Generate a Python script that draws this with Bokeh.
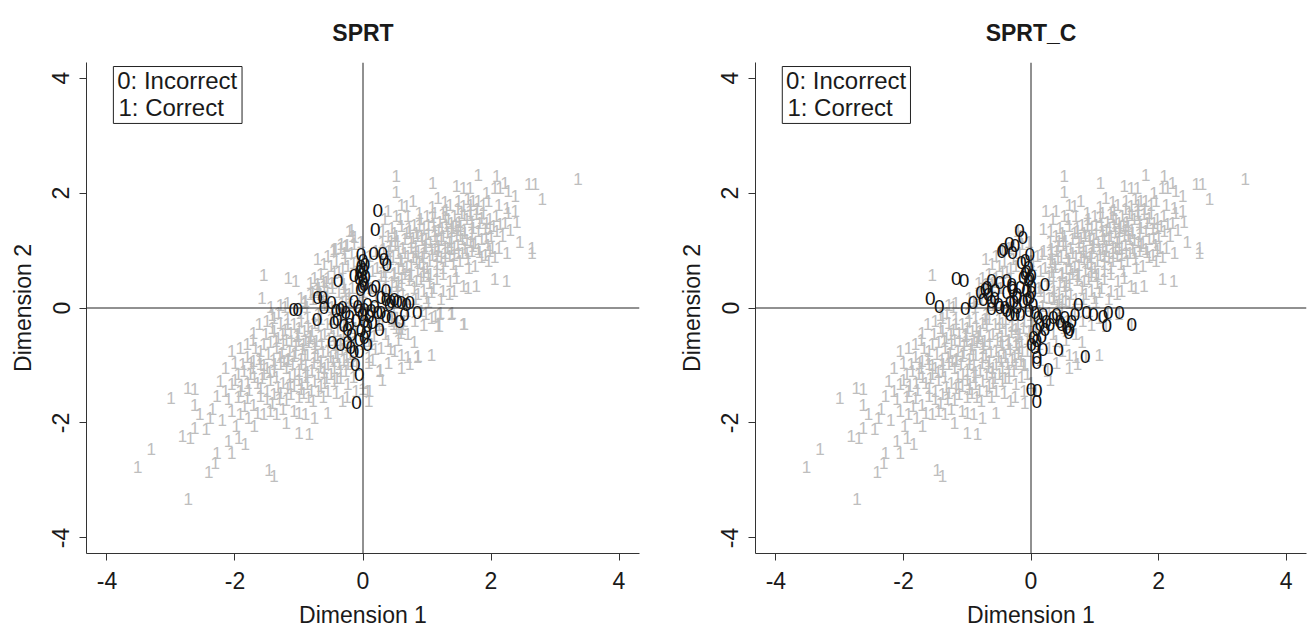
from bokeh.plotting import figure
from bokeh.layouts import row
from bokeh.models import Span, BoxAnnotation, Label, FixedTicker, ColumnDataSource, Range1d
from bokeh.core.properties import value
from bokeh.embed import file_html
from bokeh.resources import INLINE

FONT = "Liberation Sans"
titles = ["SPRT", "SPRT_C"]
x_label = "Dimension 1"
y_label = "Dimension 2"
tick_values = [-4, -2, 0, 2, 4]
tick_texts = ["-4", "-2", "0", "2", "4"]
legend_lines = ["0: Incorrect", "1: Correct"]

# ---- "1" (correct) points common to both panels ----
ones_tail = [(-3.52, -2.77), (-3.31, -2.45), (-2.73, -3.33), (-3.00, -1.56), (-2.74, -1.40), (-2.63, -1.41),
             (-2.63, -1.68), (-2.82, -2.23), (-2.70, -2.26), (-2.63, -2.08), (-2.39, -1.91), (-2.41, -2.86),
             (-2.31, -2.69), (-2.28, -2.52), (-2.05, -2.52), (-2.10, -2.31), (-1.94, -2.26), (-1.84, -2.37),
             (-2.28, -1.53), (-2.15, -1.44), (-2.10, -1.59), (-2.23, -1.27), (-2.05, -1.33), (-1.47, -2.81),
             (-1.39, -2.92), (-1.00, -2.17), (-0.84, -2.19), (-2.05, -1.79), (-1.92, -1.85), (-1.79, -1.91),
             (-1.65, -1.82), (-1.55, -1.85), (-1.45, -1.79)]

ones_mid_low = [(-1.92, -1.44), (-1.81, -1.56), (-1.71, -1.68), (-1.60, -1.53), (-1.50, -1.59), (-1.39, -1.50),
                (-1.29, -1.47), (-1.18, -1.39), (-1.08, -1.36), (-0.97, -1.41), (-0.87, -1.33), (-0.76, -1.27),
                (-0.66, -1.36), (-0.55, -1.44), (-0.45, -1.27), (-0.35, -1.21), (-0.24, -1.33), (-0.11, -1.44),
                (0.07, -1.44), (-1.08, -1.79), (-1.00, -1.82), (-0.90, -1.85), (-0.76, -1.91), (-0.55, -1.82),
                (-2.05, -0.74), (-1.92, -0.69), (-1.81, -0.62), (-1.71, -0.43), (-1.55, -0.63), (-1.81, -0.86),
                (-1.71, -0.92), (-1.60, -0.98), (-1.50, -1.04), (-1.39, -1.10), (-1.29, -0.98), (-1.18, -0.92),
                (-1.08, -0.83), (-0.97, -0.89), (-0.87, -0.81), (-0.76, -0.86), (-0.66, -0.92), (-0.55, -0.98),
                (-0.45, -1.04), (-0.35, -1.10), (-0.24, -0.98), (-1.86, -1.10), (-1.76, -1.15), (-1.55, -1.15)]

ones_low_right = [(0.49, -0.75), (0.60, -0.81), (0.70, -0.86), (0.73, -0.98), (0.86, -0.83), (1.07, -0.81),
                  (0.26, -1.10), (0.13, -0.63), (0.28, -0.69), (0.39, -0.57), (1.20, -0.11), (1.17, -0.31),
                  (1.38, -0.11), (1.57, -0.28), (0.91, -0.05), (1.07, -0.17), (0.81, -0.23), (0.62, -0.28),
                  (0.52, -0.34), (0.25, -0.30), (0.35, -0.45), (0.45, -0.20), (0.70, -0.45), (0.55, -0.55)]

ones_axis_left = [(-1.50, -0.23), (-1.39, -0.17), (-1.29, -0.26), (-1.18, -0.20), (-1.08, -0.28), (-0.97, -0.23),
                  (-0.87, -0.17), (-0.76, -0.26), (-0.66, -0.20), (-1.39, -0.40), (-1.26, -0.46), (-1.13, -0.43),
                  (-1.03, -0.49), (-0.92, -0.40), (-0.82, -0.49), (-1.55, 0.57), (-0.82, 0.44), (-0.71, 0.41),
                  (-0.61, 0.38), (-1.29, 0.06), (-1.18, 0.09), (-0.97, 0.18), (-0.90, 0.12), (-0.82, 0.24),
                  (-0.76, 0.53), (-0.66, 0.59), (-0.55, 0.53), (-0.45, 0.61), (-0.32, 0.50), (-0.71, 0.85),
                  (-0.61, 0.76), (-0.50, 0.73), (-0.42, 0.82), (-0.32, 0.70), (-0.24, 0.73), (-0.45, 1.02),
                  (-0.35, 1.05), (-0.27, 1.08), (-0.14, 1.11), (-0.03, 1.14), (-0.21, 1.34), (-0.16, 1.25)]

ones_core_low = [(-1.45, -0.60), (-1.35, -0.70), (-1.25, -0.62), (-1.15, -0.75), (-1.05, -0.65), (-0.95, -0.72),
                 (-0.85, -0.60), (-0.75, -0.70), (-0.65, -0.62), (-0.55, -0.75), (-0.45, -0.65), (-0.35, -0.55),
                 (-1.40, -0.90), (-1.30, -0.85), (-1.20, -1.05), (-1.10, -0.98), (-1.00, -1.10), (-0.90, -1.00),
                 (-0.80, -1.08), (-0.70, -1.15), (-0.60, -1.05), (-0.50, -1.15), (-0.40, -0.85), (-0.30, -0.90),
                 (-0.20, -0.80), (-1.60, -0.75), (-1.65, -1.30), (-1.45, -1.25), (-1.35, -1.20), (-1.25, -1.30),
                 (-1.15, -1.20), (-1.00, -1.25), (-0.90, -1.20), (-0.70, -1.45), (-0.60, -1.30), (-0.85, -1.55),
                 (-1.20, -1.60), (-1.00, -1.55), (-0.80, -0.40), (-0.70, -0.30), (-0.60, -0.45), (-0.50, -0.35),
                 (-0.40, -0.40), (-0.30, -0.30), (-1.20, -0.55), (-1.00, -0.35), (-0.90, -0.55), (-0.70, -0.10),
                 (-0.60, 0.05), (-0.50, -0.20), (-1.80, -1.30), (-1.70, -1.20), (-1.95, -1.15), (-2.00, -0.95),
                 (-1.90, -1.35), (-1.75, -0.95), (-1.60, -1.40), (-1.50, -1.45), (-0.15, -0.60), (-0.10, -1.00),
                 (-0.25, -1.55), (-0.15, -1.20), (0.00, -1.30), (-1.42, -0.35), (-1.33, -0.52), (-1.22, -0.38),
                 (-1.12, -0.58), (-1.02, -0.45), (-0.93, -0.63), (-0.83, -0.52), (-0.73, -0.57), (-0.63, -0.77),
                 (-0.53, -0.55), (-0.43, -0.78), (-0.33, -0.72), (-0.23, -0.65), (-1.48, -0.80), (-1.38, -0.98),
                 (-1.27, -0.78), (-1.17, -0.88), (-1.07, -1.15), (-0.97, -0.98), (-0.87, -1.12), (-0.77, -0.95),
                 (-0.67, -1.02), (-0.57, -1.22), (-0.47, -0.92), (-0.37, -0.98), (-0.27, -1.10), (-1.55, -1.00),
                 (-1.62, -0.88), (-1.72, -1.05), (-1.33, -1.38), (-1.13, -1.50), (-0.93, -1.48), (-0.78, -1.62),
                 (-0.62, -1.55), (-0.42, -1.48), (-0.32, -1.62), (-1.85, -1.70), (-1.95, -1.55), (-1.42, -1.65),
                 (-1.25, -1.75)]

ones_fill_low = [(-2.15, -1.05), (-2.00, -1.25), (-1.88, -0.98), (-1.78, -1.42), (-1.68, -0.70), (-1.58, -1.22),
                 (-1.52, -0.45), (-1.46, -1.12), (-1.36, -0.58), (-1.31, -1.58), (-1.24, -0.92), (-1.18, -0.28),
                 (-1.14, -1.32), (-1.06, -0.78), (-1.01, -0.58), (-0.96, -1.32), (-0.91, -0.82), (-0.86, -0.32),
                 (-0.81, -1.42), (-0.76, -0.62), (-0.71, -0.82), (-0.66, -0.48), (-0.61, -1.12), (-0.56, -0.28),
                 (-0.51, -0.85), (-0.46, -0.48), (-0.41, -1.22), (-0.36, -0.62), (-0.31, -0.42), (-0.26, -0.85),
                 (-0.21, -0.48), (-0.16, -0.92), (-0.12, -0.35), (-1.72, -0.55), (-1.62, -0.28), (-1.42, -0.12),
                 (-1.32, -0.08), (-1.22, 0.02), (-0.98, -0.08), (-0.88, 0.02), (-0.78, 0.15), (-0.68, 0.28),
                 (-0.58, 0.45), (-0.48, 0.35), (-0.38, 0.62), (-0.28, 0.85), (-0.18, 0.95), (-0.55, 0.90),
                 (-2.35, -1.75), (-2.20, -1.95), (-2.45, -2.10), (-1.70, -2.05), (-1.20, -2.00), (-1.35, -1.85),
                 (-2.55, -1.85), (-1.98, -2.05)]

ones_up_right = [(0.49, 0.61), (0.60, 0.53), (0.73, 0.59), (0.83, 0.47), (0.94, 0.56), (1.04, 0.44), (1.15, 0.50),
                 (1.25, 0.59), (1.36, 0.47), (1.46, 0.53), (1.57, 0.38), (1.64, 0.35), (1.77, 0.38), (2.06, 0.50),
                 (2.24, 0.47), (0.44, 0.24), (0.54, 0.30), (0.70, 0.15), (0.86, 0.24), (0.99, 0.18), (1.07, 0.27),
                 (2.12, 1.05), (2.25, 0.96), (2.64, 1.05), (2.64, 0.96), (1.80, 1.02), (1.91, 0.93), (1.98, 0.99),
                 (2.06, 0.88), (0.75, 1.05), (0.86, 0.99), (0.96, 1.08), (1.07, 1.02), (1.17, 0.99), (1.28, 1.05),
                 (1.38, 1.02), (1.49, 0.96), (1.59, 1.05), (1.70, 0.99), (0.47, 0.88), (0.60, 0.82), (0.70, 0.90),
                 (0.83, 0.85), (0.94, 0.76), (1.04, 0.82), (1.15, 0.76), (1.28, 0.82), (1.41, 0.76), (1.51, 0.82),
                 (1.64, 0.85), (1.75, 0.73), (1.85, 0.88), (1.96, 0.82), (1.93, 1.48), (2.04, 1.43), (2.14, 1.46),
                 (2.22, 1.48), (1.91, 1.37), (1.98, 1.40), (2.09, 1.34), (0.60, 1.43), (0.73, 1.34), (0.83, 1.31),
                 (0.91, 1.25), (1.02, 1.28), (1.12, 1.34), (1.23, 1.40), (1.30, 1.43), (1.38, 1.34), (1.46, 1.25),
                 (1.59, 1.31), (1.70, 1.28), (1.80, 1.34), (1.62, 1.19), (1.75, 1.13), (0.31, 1.34), (0.39, 1.25),
                 (0.49, 1.31), (0.44, 1.17), (0.54, 1.17)]

ones_top = [(0.78, 1.86), (0.68, 1.77), (0.60, 1.80), (1.17, 1.92), (1.36, 1.80), (1.49, 1.86), (1.57, 1.77),
            (1.64, 1.89), (1.72, 1.86), (1.80, 1.86), (1.88, 1.80), (1.96, 1.86), (2.12, 1.80), (2.25, 1.74),
            (2.38, 1.69), (2.27, 1.66), (0.39, 1.69), (0.52, 1.60), (0.34, 1.54), (1.00, 1.60), (1.12, 1.66),
            (1.25, 1.63), (1.33, 1.54), (1.43, 1.60), (1.54, 1.66), (1.67, 1.69), (1.77, 1.63), (1.85, 1.57),
            (0.52, 2.30), (1.09, 2.18), (1.46, 2.12), (1.57, 2.09), (1.67, 2.09), (1.80, 2.32), (2.09, 2.30),
            (2.22, 2.18), (2.27, 2.03), (2.59, 2.15), (2.69, 2.15), (0.52, 2.01), (1.93, 2.00), (2.06, 2.09),
            (2.14, 2.09), (2.38, 1.95), (2.80, 1.89), (3.36, 2.25)]

ones_core_up = [(0.25, 0.40), (0.35, 0.55), (0.45, 0.45), (0.55, 0.70), (0.65, 0.60), (0.75, 0.75), (0.85, 0.65),
                (0.95, 0.95), (1.05, 0.60), (1.15, 0.90), (1.25, 0.70), (1.35, 0.90), (1.45, 0.65), (1.55, 0.95),
                (1.65, 0.70), (0.30, 0.80), (0.40, 1.00), (0.50, 1.10), (0.65, 1.20), (0.75, 1.15), (0.85, 1.25),
                (0.95, 1.40), (1.05, 1.15), (1.15, 1.20), (1.25, 1.25), (1.35, 1.15), (1.45, 1.45), (1.55, 1.20),
                (1.20, 1.50), (1.10, 1.45), (0.90, 1.55), (0.80, 1.45), (0.70, 1.60), (1.30, 1.70), (1.40, 1.40),
                (1.50, 1.50), (1.70, 1.50), (1.85, 1.20), (1.95, 1.10), (2.00, 1.25), (1.00, 0.70), (0.90, 0.50),
                (0.80, 0.35), (0.60, 0.40), (0.20, 0.20), (0.15, 0.65), (0.20, 1.00), (0.10, 0.90), (0.30, 1.15),
                (0.55, 0.95), (0.65, 0.95), (1.10, 0.35), (1.25, 0.30), (1.35, 0.25), (0.95, 0.30), (0.35, 0.20),
                (0.28, 0.55), (0.38, 0.72), (0.48, 0.58), (0.58, 0.85), (0.68, 0.72), (0.78, 0.88), (0.88, 0.78),
                (0.98, 1.05), (1.08, 0.92), (1.18, 1.08), (1.28, 0.95), (1.38, 1.22), (1.48, 1.10), (1.58, 1.35),
                (1.68, 1.15), (0.42, 1.08), (0.52, 1.25), (0.62, 1.05), (0.72, 1.40), (0.82, 1.08), (0.92, 1.18),
                (1.02, 1.45), (1.12, 1.02), (1.22, 1.18), (1.32, 1.32), (1.42, 1.05), (1.52, 1.42), (1.62, 1.55),
                (1.72, 1.40), (1.82, 1.48), (0.88, 1.65), (1.08, 1.75), (1.28, 1.85), (1.48, 1.72), (1.68, 1.80),
                (0.35, 0.35), (0.55, 0.45), (0.75, 0.55), (0.95, 0.62), (1.15, 0.65)]

ones_fill_up = [(0.12, 0.35), (0.22, 0.70), (0.32, 0.62), (0.42, 0.85), (0.52, 0.38), (0.62, 0.68), (0.72, 0.48),
                (0.82, 0.98), (0.92, 0.88), (1.02, 0.55), (1.12, 1.25), (1.22, 0.88), (1.32, 1.05), (1.42, 0.92),
                (1.52, 1.25), (1.62, 0.95), (1.72, 1.08), (1.82, 0.98), (1.92, 1.22), (2.02, 1.05), (0.32, 1.02),
                (0.45, 1.40), (0.58, 1.55), (0.68, 1.30), (0.78, 1.22), (0.88, 1.45), (0.98, 1.20), (1.08, 1.58),
                (1.18, 1.35), (1.28, 1.58), (1.38, 1.48), (1.48, 1.35), (1.58, 1.62), (1.68, 1.62), (1.78, 1.72),
                (1.88, 1.65), (1.98, 1.55), (2.08, 1.60), (2.18, 1.25), (2.30, 1.35), (2.40, 1.50), (2.45, 1.15),
                (0.62, 0.25), (0.82, 0.15), (1.02, 0.10), (1.22, 0.15), (1.42, 0.30), (0.48, 0.02), (0.68, -0.05),
                (0.95, -0.30), (0.80, -0.60), (0.60, -1.05), (0.40, -0.95), (0.15, -0.90), (0.30, -1.25)]

# ---- "0" (incorrect) points per method ----
zeros_sprt = [(0.23, 1.69), (0.19, 1.37), (0.17, 0.94), (0.31, 0.94), (0.33, 0.85), (0.37, 0.76),
              (-0.03, 0.93), (0.00, 0.82), (-0.03, 0.73), (0.01, 0.67), (-0.02, 0.58), (-0.06, 0.52),
              (0.00, 0.47), (0.02, 0.41), (-0.04, 0.33), (0.03, 0.75), (-0.05, 0.63), (0.04, 0.55), (-0.01, 0.38),
              (-0.14, 0.56), (-0.39, 0.48), (0.20, 0.38), (0.36, 0.30),
              (-0.71, 0.18), (-0.63, 0.18), (-0.49, 0.09), (-0.61, 0.01), (-1.08, -0.02), (-1.02, -0.02),
              (-0.72, -0.20), (-0.42, -0.05), (-0.36, -0.02), (-0.32, 0.01), (-0.27, -0.08), (-0.21, -0.14),
              (-0.45, -0.26), (-0.40, -0.20), (-0.30, -0.31), (-0.21, -0.28),
              (-0.14, 0.12), (-0.08, 0.03), (-0.06, -0.05), (0.02, -0.02), (0.07, 0.06), (0.13, -0.05),
              (0.18, 0.03), (0.23, -0.08), (0.15, 0.30), (0.28, 0.18), (0.36, 0.15), (0.41, 0.06), (0.44, 0.12),
              (0.49, 0.15), (0.54, 0.12), (0.60, 0.09), (0.68, 0.06), (0.73, 0.09), (0.85, -0.08),
              (0.28, -0.08), (0.36, -0.14), (0.44, -0.17), (0.57, -0.23), (0.65, -0.11),
              (0.02, -0.23), (0.07, -0.31), (0.15, -0.26), (0.26, -0.37), (-0.03, -0.40),
              (-0.01, -0.12), (-0.11, -0.22), (0.10, -0.15), (0.05, -0.42),
              (-0.48, -0.60), (-0.35, -0.63), (-0.24, -0.60), (-0.19, -0.69), (-0.14, -0.75),
              (-0.06, -0.54), (0.02, -0.52), (0.07, -0.63), (-0.06, -0.75),
              (-0.12, -0.98), (-0.06, -1.15), (-0.10, -1.65), (-0.24, -0.37), (-0.18, -0.46)]

zeros_sprt_c = [(-1.58, 0.17), (-1.44, 0.02), (-1.17, 0.52), (-1.05, 0.47), (-1.03, -0.01), (-0.91, 0.09),
                (-0.79, 0.27), (-0.72, 0.32), (-0.67, 0.24), (-0.62, 0.12), (-0.57, 0.17), (-0.75, 0.15),
                (-0.62, -0.01), (-0.49, 0.01), (-0.62, 0.47), (-0.49, 0.44), (-0.38, 0.47), (-0.30, 0.41),
                (-0.38, 0.27), (-0.28, 0.30), (-0.22, 0.18), (-0.33, 0.09), (-0.38, -0.05), (-0.25, -0.11),
                (-0.46, 0.99), (-0.43, 1.02), (-0.34, 1.12), (-0.29, 0.96), (-0.25, 1.09), (-0.18, 1.35),
                (-0.13, 1.23), (-0.15, 0.79), (-0.09, 0.82), (-0.02, 0.93), (-0.07, 0.64), (-0.12, 0.53),
                (-0.04, 0.47), (0.01, 0.56), (-0.17, 0.35), (-0.07, 0.30), (0.01, 0.38), (-0.12, 0.12),
                (-0.02, 0.18), (-0.69, 0.35), (-0.56, 0.30), (-0.30, 0.35), (-0.22, 0.24), (-0.27, 0.12),
                (-0.41, 0.01), (-0.33, -0.11), (-0.22, 0.01), (-0.17, -0.11), (-0.51, 0.06),
                (-0.04, 0.71), (-0.09, 0.60), (-0.02, 0.52), (0.01, 0.27), (-0.06, 0.15), (0.03, 0.06),
                (-0.03, -0.05), (0.06, -0.08), (0.11, -0.17), (0.19, -0.11), (0.24, -0.23), (0.14, -0.28),
                (0.09, -0.37), (0.22, -0.37), (0.30, -0.28), (0.35, -0.17), (0.40, -0.11), (0.45, -0.23),
                (0.53, -0.17), (0.56, -0.34), (0.59, -0.43), (0.64, -0.23), (0.69, -0.11), (0.74, 0.06),
                (0.87, -0.08), (0.98, -0.11), (1.13, -0.14), (1.21, -0.08), (1.19, -0.31), (1.39, -0.08),
                (1.58, -0.28), (0.22, 0.41), (0.48, -0.28), (0.61, -0.37),
                (0.04, -0.52), (0.01, -0.63), (0.09, -0.57), (0.17, -0.49), (0.06, -0.69), (0.19, -0.72),
                (0.09, -0.86), (0.09, -0.95), (0.27, -1.07), (0.43, -0.72), (0.85, -0.85),
                (0.00, -1.41), (0.10, -1.44), (0.09, -1.62)]

common_ones = (ones_tail + ones_mid_low + ones_low_right + ones_axis_left + ones_core_low + ones_fill_low
               + ones_up_right + ones_top + ones_core_up + ones_fill_up)

GRAY = "#bebebe"
INK = "#1a1a1a"

X_RANGE = (-4.32, 4.32)
Y_RANGE = (-4.27, 4.27)


def near(p, pts, tol=0.06):
    return any(abs(p[0] - q[0]) < tol and abs(p[1] - q[1]) < tol for q in pts)


def make_panel(title, zeros, other_zeros, width, border_right):
    ones = common_ones + [p for p in other_zeros if not near(p, zeros)]
    p = figure(width=width, height=634, output_backend="svg", toolbar_location=None,
               x_range=Range1d(*X_RANGE), y_range=Range1d(*Y_RANGE),
               min_border_left=86, min_border_right=border_right,
               min_border_top=62, min_border_bottom=81, title=title)
    p.title.text_font = FONT
    p.title.text_font_size = "23px"
    p.title.text_font_style = "bold"
    p.title.align = "center"
    p.title.text_color = INK
    p.title.standoff = 34
    p.outline_line_color = None
    p.grid.visible = False
    p.background_fill_color = "white"
    p.border_fill_color = "white"

    overrides = {v: t for v, t in zip(tick_values, tick_texts)}
    for ax in (p.xaxis[0], p.yaxis[0]):
        ax.ticker = FixedTicker(ticks=tick_values)
        ax.major_label_overrides = overrides
        ax.major_tick_out = 7
        ax.major_tick_in = 0
        ax.minor_tick_line_color = None
        ax.axis_line_color = "#333333"
        ax.major_tick_line_color = "#333333"
        ax.major_label_text_font = FONT
        ax.major_label_text_font_size = "23px"
        ax.major_label_text_color = INK
        ax.axis_label_text_font = FONT
        ax.axis_label_text_font_size = "23px"
        ax.axis_label_text_font_style = "normal"
        ax.axis_label_text_color = INK
    p.xaxis.axis_label = x_label
    p.yaxis.axis_label = y_label
    p.xaxis.major_label_standoff = 11
    p.xaxis.axis_label_standoff = 10
    p.yaxis.major_label_orientation = "vertical"
    p.yaxis.major_label_standoff = 10
    p.yaxis.axis_label_standoff = 14

    src1 = ColumnDataSource(dict(x=[q[0] for q in ones], y=[q[1] for q in ones], t=["1"] * len(ones)))
    src0 = ColumnDataSource(dict(x=[q[0] for q in zeros], y=[q[1] for q in zeros], t=["0"] * len(zeros)))
    p.text(x="x", y="y", text="t", source=src1, text_color=GRAY, text_font=value(FONT),
           text_font_size="17px", text_align="center", text_baseline="middle")
    p.text(x="x", y="y", text="t", source=src0, text_color="#111111", text_font=value(FONT),
           text_font_size="19px", text_align="center", text_baseline="middle")

    p.add_layout(Span(location=0, dimension="height", line_color="#222222", line_width=1))
    p.add_layout(Span(location=0, dimension="width", line_color="#222222", line_width=1))

    p.add_layout(BoxAnnotation(left=-3.90, right=-1.89, top=4.20, bottom=3.21,
                               fill_color="white", fill_alpha=1.0, line_color="#222222",
                               line_alpha=1.0, line_width=1, level="overlay"))
    p.add_layout(Label(x=-3.84, y=3.96, text=legend_lines[0], text_baseline="middle",
                       text_font=FONT, text_font_size="24px", text_color=INK, level="overlay"))
    p.add_layout(Label(x=-3.82, y=3.49, text=legend_lines[1], text_baseline="middle",
                       text_font=FONT, text_font_size="24px", text_color=INK, level="overlay"))
    return p


left = make_panel(titles[0], zeros_sprt, zeros_sprt_c, 669, 30)
right = make_panel(titles[1], zeros_sprt_c, zeros_sprt, 641, 4)

layout = row(left, right)
open("out.html", "w").write(file_html(layout, INLINE))
